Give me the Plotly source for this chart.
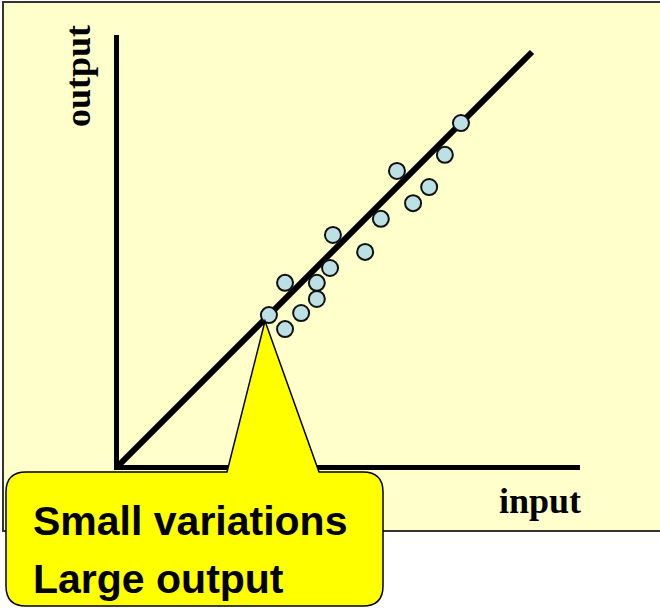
import plotly.graph_objects as go

# ---- data (input/output units) ----
input_vals = [8.28, 7.89, 6.73, 7.51, 7.12, 6.34, 5.18, 5.96, 5.11, 4.02, 4.79, 4.79, 4.41, 3.63, 4.02]
output_vals = [8.28, 7.51, 7.12, 6.73, 6.34, 5.96, 5.57, 5.16, 4.77, 4.41, 4.41, 4.02, 3.68, 3.63, 3.29]
trend_x = [0, 10]
trend_y = [0, 10]
x_label = "input"
y_label = "output"
callout_lines = ["Small variations", "Large output"]

W, H = 660, 609


def px(x):
    return x / W


def py(y):
    return 1 - y / H


fig = go.Figure()

fig.add_trace(go.Scatter(
    x=trend_x, y=trend_y, mode="lines",
    line=dict(color="black", width=6),
    hoverinfo="skip", showlegend=False,
))

fig.add_trace(go.Scatter(
    x=input_vals, y=output_vals, mode="markers",
    marker=dict(size=16, color="#BDE0E5", line=dict(color="#111111", width=2)),
    cliponaxis=False, showlegend=False,
))

# background box
fig.add_shape(type="rect", xref="paper", yref="paper",
              x0=px(3), x1=px(680), y0=py(531), y1=py(2),
              fillcolor="#FFFFCC", line=dict(color="#333333", width=2), layer="below")

# callout (rounded rect + pointer)
L, R, T, B, r = 6, 383, 472, 606, 20
bl, br, tip = (227, T), (319, T), (265, 321)


def P(x, y):
    return f"{px(x):.5f},{py(y):.5f}"


path = (
    f"M {P(L + r, T)} L {P(*bl)} L {P(*tip)} L {P(*br)} L {P(R - r, T)} "
    f"Q {P(R, T)} {P(R, T + r)} L {P(R, B - r)} Q {P(R, B)} {P(R - r, B)} "
    f"L {P(L + r, B)} Q {P(L, B)} {P(L, B - r)} L {P(L, T + r)} Q {P(L, T)} {P(L + r, T)} Z"
)
fig.add_shape(type="path", xref="paper", yref="paper", path=path,
              fillcolor="#FFFF00", line=dict(color="black", width=1.5), layer="above")

cfont = dict(family="Liberation Sans, Arial, sans-serif", size=41, color="black")
fig.add_annotation(text=f"<b>{callout_lines[0]}</b>", xref="paper", yref="paper",
                   x=px(31), y=py(521), xanchor="left", yanchor="middle",
                   showarrow=False, font=cfont)
fig.add_annotation(text=f"<b>{callout_lines[1]}</b>", xref="paper", yref="paper",
                   x=px(31), y=py(579), xanchor="left", yanchor="middle",
                   showarrow=False, font=cfont)

sfont = dict(family="Liberation Serif, Times New Roman, serif", size=36, color="black")
fig.add_annotation(text=f"<b>{x_label}</b>", xref="paper", yref="paper",
                   x=px(540), y=py(501), xanchor="center", yanchor="middle",
                   showarrow=False, font=sfont)
fig.add_annotation(text=f"<b>{y_label}</b>", xref="paper", yref="paper",
                   x=px(78), y=py(76), xanchor="center", yanchor="middle",
                   textangle=-90, showarrow=False, font=sfont)

fig.update_xaxes(domain=[119 / W, 580 / W], range=[0, (580 - 119) / 41.3],
                 showline=True, linewidth=5, linecolor="black",
                 showgrid=False, zeroline=False, showticklabels=False, ticks="")
fig.update_yaxes(domain=[1 - 465 / H, 1 - 35 / H], range=[0, (465 - 35) / 41.3],
                 showline=True, linewidth=5, linecolor="black",
                 showgrid=False, zeroline=False, showticklabels=False, ticks="")

fig.update_layout(width=W, height=H, margin=dict(l=0, r=0, t=0, b=0),
                  paper_bgcolor="white", plot_bgcolor="rgba(0,0,0,0)",
                  showlegend=False)

fig.write_html("out.html", config={"displayModeBar": False},
               post_script="document.body.style.margin='0px';")
